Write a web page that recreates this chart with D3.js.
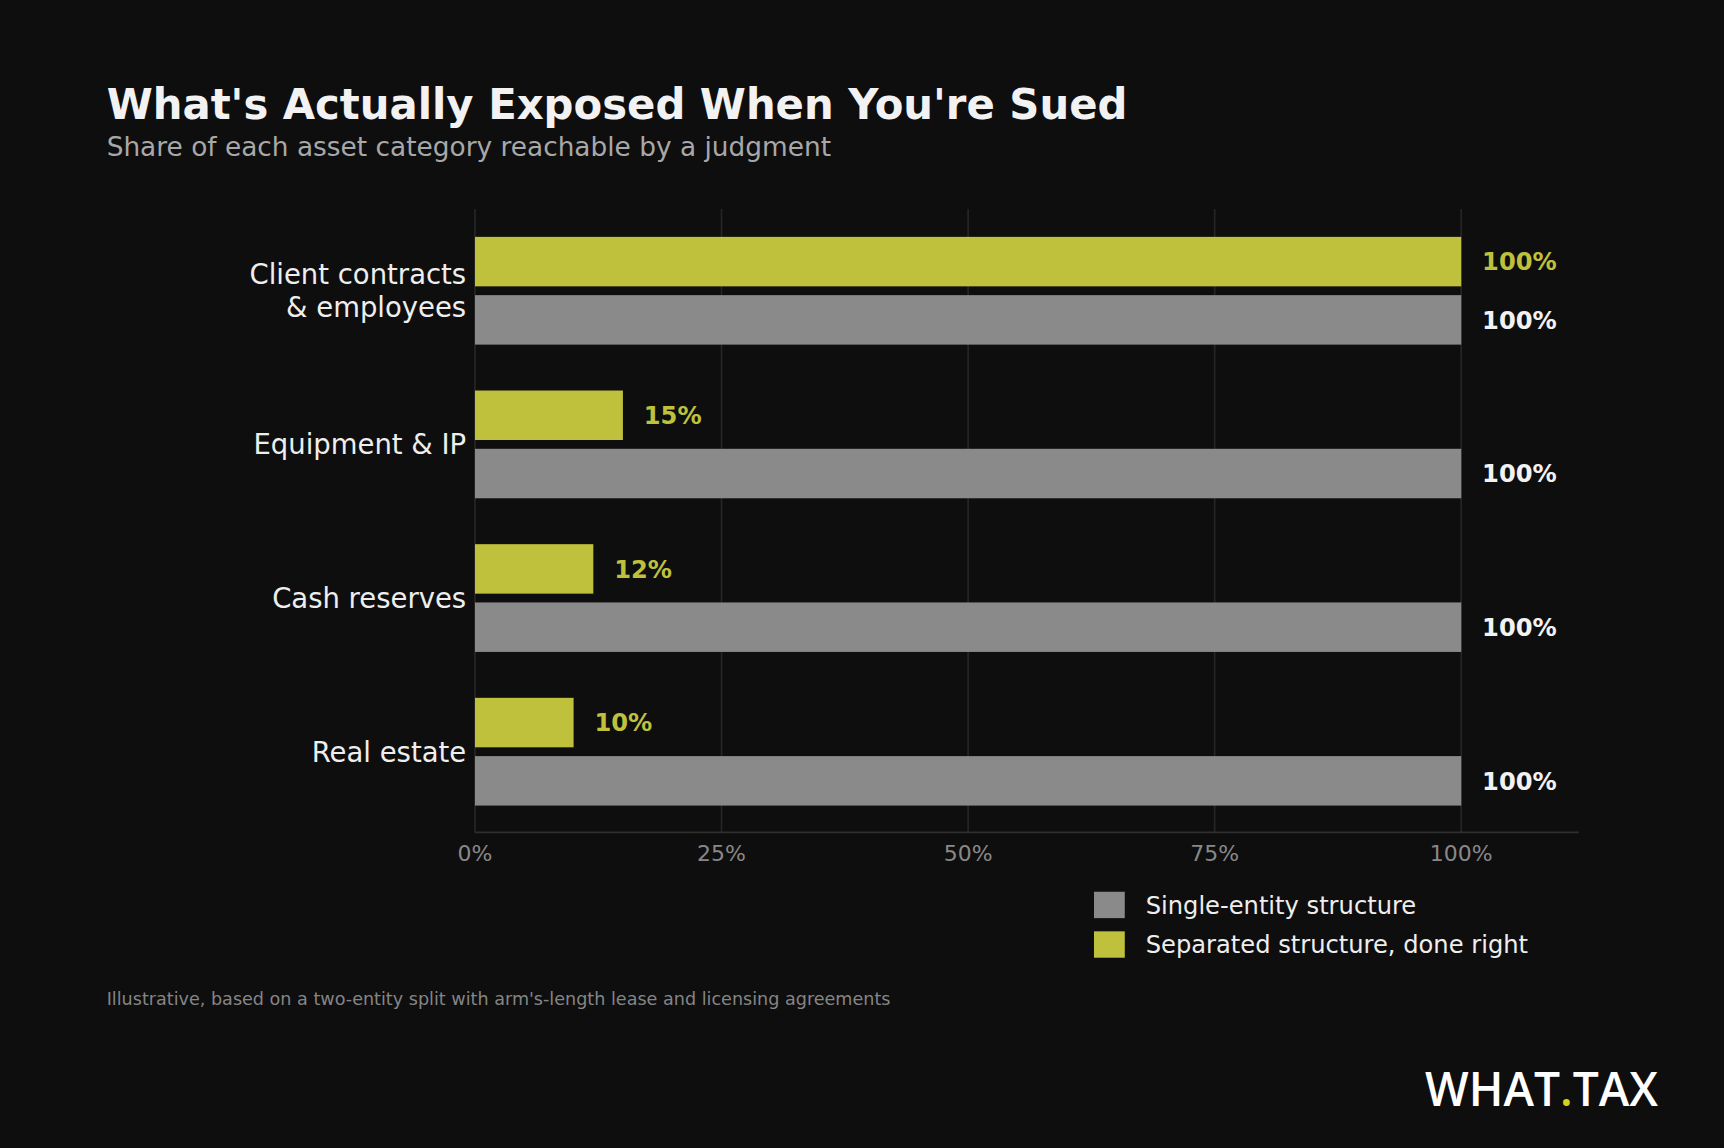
<!DOCTYPE html>
<html>
<head>
<meta charset="utf-8">
<script src="https://cdn.jsdelivr.net/npm/d3@7"></script>
<style>
  body { margin: 0; background: #0e0e0e; }
  svg { display: block; font-family: 'DejaVu Sans', sans-serif; }
</style>
</head>
<body>
<svg id="chart" width="1724" height="1148" viewBox="0 0 1568 1044"></svg>
<script>
// data
const categories = ['Client contracts\n& employees', 'Equipment & IP', 'Cash reserves', 'Real estate'];
const separated = [100, 15, 12, 10];
const single = [100, 100, 100, 100];
const ticks = [0, 25, 50, 75, 100];

const svg = d3.select('#chart');
svg.append('rect').attr('width', 1568).attr('height', 1044).attr('fill', '#0e0e0e');

const x = d3.scaleLinear().domain([0, 100]).range([432, 1329]);
const y = d3.scaleBand().domain(categories).range([194.5, 753.5]);
const barH = 45, gap = 8;

// gridlines
svg.append('g').selectAll('line').data(ticks).enter().append('line')
  .attr('x1', d => x(d)).attr('x2', d => x(d))
  .attr('y1', 190).attr('y2', 757)
  .attr('stroke', '#262626').attr('stroke-width', 1.5);

// axis line
svg.append('line').attr('x1', 432).attr('x2', 1436).attr('y1', 757).attr('y2', 757)
  .attr('stroke', '#2e2e2e').attr('stroke-width', 1.5);

svg.append('g').selectAll('text').data(ticks).enter().append('text')
  .attr('x', d => x(d)).attr('y', 783)
  .attr('text-anchor', 'middle').attr('fill', '#888').attr('font-size', 20)
  .text(d => d + '%');

const groups = svg.append('g').selectAll('g').data(categories).enter().append('g')
  .attr('transform', d => `translate(0,${y(d) + y.bandwidth() / 2})`);

// separated (yellow) bars on top
groups.append('rect')
  .attr('x', x(0)).attr('y', -barH - gap / 2)
  .attr('width', (d, i) => x(separated[i]) - x(0)).attr('height', barH)
  .attr('fill', '#bfc03c');
groups.append('text')
  .attr('x', (d, i) => x(separated[i]) + 19).attr('y', -barH / 2 - gap / 2 + 8)
  .attr('fill', '#bfc03c').attr('font-size', 22).attr('font-weight', 'bold')
  .text((d, i) => separated[i] + '%');

// single entity (gray) bars
groups.append('rect')
  .attr('x', x(0)).attr('y', gap / 2)
  .attr('width', (d, i) => x(single[i]) - x(0)).attr('height', barH)
  .attr('fill', '#8a8a8a');
groups.append('text')
  .attr('x', (d, i) => x(single[i]) + 19).attr('y', barH / 2 + gap / 2 + 8)
  .attr('fill', '#f2f2f2').attr('font-size', 22).attr('font-weight', 'bold')
  .text((d, i) => single[i] + '%');

// category labels
groups.each(function (d) {
  const lines = d.split('\n');
  const t = d3.select(this).append('text')
    .attr('text-anchor', 'end').attr('fill', '#eeeeee').attr('font-size', 25);
  lines.forEach((l, k) => {
    t.append('tspan').attr('x', 424)
      .attr('y', (k - (lines.length - 1) / 2) * 30 + 9).text(l);
  });
});

// titles
svg.append('text').attr('x', 97).attr('y', 108).attr('fill', '#f2f2f2')
  .attr('font-size', 38).attr('font-weight', 'bold')
  .text("What's Actually Exposed When You're Sued");
svg.append('text').attr('x', 97).attr('y', 142).attr('fill', '#a8a8a8')
  .attr('font-size', 24).text('Share of each asset category reachable by a judgment');

// legend
const legend = [['Single-entity structure', '#8a8a8a'], ['Separated structure, done right', '#bfc03c']];
const lg = svg.append('g').selectAll('g').data(legend).enter().append('g')
  .attr('transform', (d, i) => `translate(995,${811 + i * 36})`);
lg.append('rect').attr('width', 28).attr('height', 24).attr('fill', d => d[1]);
lg.append('text').attr('x', 47).attr('y', 20).attr('fill', '#eeeeee')
  .attr('font-size', 22).text(d => d[0]);

// footnote
svg.append('text').attr('x', 97).attr('y', 914).attr('fill', '#858585').attr('font-size', 16)
  .text("Illustrative, based on a two-entity split with arm's-length lease and licensing agreements");

// logo
const logo = svg.append('text').attr('x', 1508).attr('y', 1006).attr('text-anchor', 'end')
  .attr('fill', '#ffffff').attr('font-size', 42).attr('font-family', 'Open Sans, sans-serif')
  .attr('font-weight', 600);
logo.append('tspan').text('WHAT');
logo.append('tspan').attr('fill', '#d4d21a').text('.');
logo.append('tspan').text('TAX');
</script>
</body>
</html>
